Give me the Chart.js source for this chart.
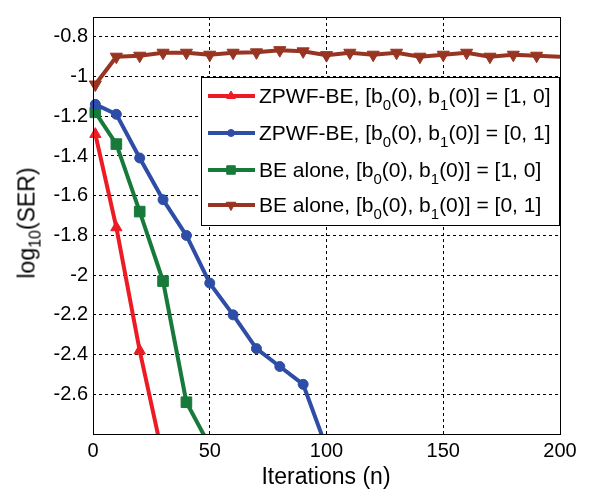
<!DOCTYPE html>
<html lang="en">
  <head>
    <meta charset="UTF-8" />
    <title>log10(SER) vs iterations</title>
    <script src="https://cdn.jsdelivr.net/npm/chart.js"></script>
    <style>
      body { margin: 0; background: #fff; font-family: "Liberation Sans", Arial, sans-serif; color: #000; }
      .wrap { position: relative; width: 590px; height: 489px; }
      .legend { position: absolute; left: 201px; top: 77px; width: 357px; height: 147px; background: #fff; border: 1px solid #000; }
      .row { position: absolute; left: 5px; height: 30px; display: flex; align-items: center; font-size: 21px; white-space: nowrap; }
      .row canvas { margin-right: 2px; }
      .row sub { font-size: 15px; vertical-align: -7px; line-height: 0; }
      .ytitle { position: absolute; left: 27px; top: 223px; line-height: 1; transform: translate(-50%, -50%) rotate(-90deg); font-size: 23px; white-space: nowrap; }
      .ytitle sub { font-size: 16px; vertical-align: -6px; line-height: 0; }
      .xtitle { position: absolute; left: 326px; top: 476px; line-height: 1; transform: translate(-50%, -50%); font-size: 23px; white-space: nowrap; }
    </style>
  </head>

  <body>
    <div class="wrap">
      <canvas id="serChart" width="590" height="489"></canvas>
      <div class="legend" id="legend"></div>
      <div class="ytitle">log<sub>10</sub>(SER)</div>
      <div class="xtitle">Iterations (n)</div>
    </div>
    <script>
      // iteration index of each marker
      const iterations = [1, 10, 20, 30, 40, 50, 60, 70, 80, 90, 100, 110, 120, 130, 140, 150, 160, 170, 180, 190, 200];

      const zpwfBe10 = [-1.29, -1.76, -2.38, -2.92];
      const zpwfBe01 = [-1.14, -1.19, -1.41, -1.62, -1.80, -2.04, -2.20, -2.37, -2.46, -2.55, -2.87];
      const beAlone10 = [-1.18, -1.34, -1.68, -2.03, -2.64, -2.86];
      const beAlone01 = [-1.04, -0.90, -0.895, -0.88, -0.88, -0.89, -0.88, -0.878, -0.867, -0.873, -0.892,
                         -0.88, -0.89, -0.88, -0.90, -0.89, -0.88, -0.90, -0.89, -0.895, -0.90];

      const legendLabels = [
        "ZPWF-BE, [b<sub>0</sub>(0), b<sub>1</sub>(0)] = [1, 0]",
        "ZPWF-BE, [b<sub>0</sub>(0), b<sub>1</sub>(0)] = [0, 1]",
        "BE alone, [b<sub>0</sub>(0), b<sub>1</sub>(0)] = [1, 0]",
        "BE alone, [b<sub>0</sub>(0), b<sub>1</sub>(0)] = [0, 1]",
      ];

      const xTicks = [0, 50, 100, 150, 200];
      const yTicks = [-2.6, -2.4, -2.2, -2, -1.8, -1.6, -1.4, -1.2, -1, -0.8];

      const toPoints = (vals) => vals.map((v, i) => ({ x: iterations[i], y: v }));

      const styles = [
        { color: "#ED1C24", pointStyle: "triangle", radius: 6.5, rotation: 0 },
        { color: "#2E4DA6", pointStyle: "circle", radius: 5, rotation: 0 },
        { color: "#177A3B", pointStyle: "rect", radius: 7.5, rotation: 0 },
        { color: "#983422", pointStyle: "triangle", radius: 7, rotation: 180 },
      ];
      const series = [zpwfBe10, zpwfBe01, beAlone10, beAlone01];

      const datasets = series.map((vals, i) => ({
        label: legendLabels[i],
        data: toPoints(vals),
        borderColor: styles[i].color,
        backgroundColor: styles[i].color,
        borderWidth: 4,
        pointStyle: styles[i].pointStyle,
        pointRotation: styles[i].rotation,
        pointRadius: (ctx) => (ctx.raw && ctx.raw.x >= 200 ? 0 : styles[i].radius),
        pointBorderWidth: 1,
        tension: 0,
        clip: { left: 10, top: 10, right: 0, bottom: 0 },
      }));

      const boxPlugin = {
        id: "box",
        afterDraw(chart) {
          const a = chart.chartArea;
          const ctx = chart.ctx;
          ctx.save();
          ctx.strokeStyle = "#000";
          ctx.lineWidth = 1;
          ctx.setLineDash([]);
          ctx.strokeRect(Math.round(a.left) + 0.5, Math.round(a.top) + 0.5,
            Math.round(a.right - a.left), Math.round(a.bottom - a.top));
          ctx.restore();
        },
      };

      const ctx = document.getElementById("serChart").getContext("2d");
      new Chart(ctx, {
        type: "line",
        data: { datasets: datasets },
        options: {
          responsive: false,
          animation: false,
          layout: { padding: { left: 0, right: 30, top: 11, bottom: 0 } },
          plugins: { legend: { display: false }, tooltip: { enabled: false } },
          scales: {
            x: {
              type: "linear",
              min: 0,
              max: 200,
              afterBuildTicks: (axis) => { axis.ticks = xTicks.map((v) => ({ value: v })); },
              afterFit: (axis) => { axis.height = 55; },
              grid: { color: "#000", lineWidth: 1, drawTicks: false },
              border: { display: false, dash: [3, 3] },
              ticks: { color: "#000", padding: 5, maxRotation: 0, font: { family: "Liberation Sans", size: 20 },
                       callback: (v) => String(v) },
            },
            y: {
              min: -2.8,
              max: -0.7,
              afterBuildTicks: (axis) => { axis.ticks = yTicks.map((v) => ({ value: v })); },
              afterFit: (axis) => { axis.width = 93; },
              grid: { color: "#000", lineWidth: 1, drawTicks: false },
              border: { display: false, dash: [3, 3] },
              ticks: { color: "#000", padding: 5, font: { family: "Liberation Sans", size: 20 },
                       callback: (v) => String(v) },
            },
          },
        },
        plugins: [boxPlugin],
      });

      // legend with subscripts
      const legend = document.getElementById("legend");
      const rowCenters = [18, 55, 92, 127];
      datasets.forEach((ds, i) => {
        const row = document.createElement("div");
        row.className = "row";
        row.style.top = rowCenters[i] - 15 + "px";
        const sample = document.createElement("canvas");
        sample.width = 50;
        sample.height = 20;
        const sc = sample.getContext("2d");
        sc.strokeStyle = styles[i].color;
        sc.fillStyle = styles[i].color;
        sc.lineWidth = 4;
        sc.beginPath();
        sc.moveTo(1, 10);
        sc.lineTo(48, 10);
        sc.stroke();
        sc.lineWidth = 1;
        Chart.helpers.drawPoint(sc, {
          pointStyle: styles[i].pointStyle,
          radius: styles[i].radius - 1.5,
          rotation: styles[i].rotation,
          borderWidth: 1,
        }, 24, 10);
        row.appendChild(sample);
        const label = document.createElement("span");
        label.innerHTML = ds.label;
        row.appendChild(label);
        legend.appendChild(row);
      });
    </script>
  </body>
</html>
